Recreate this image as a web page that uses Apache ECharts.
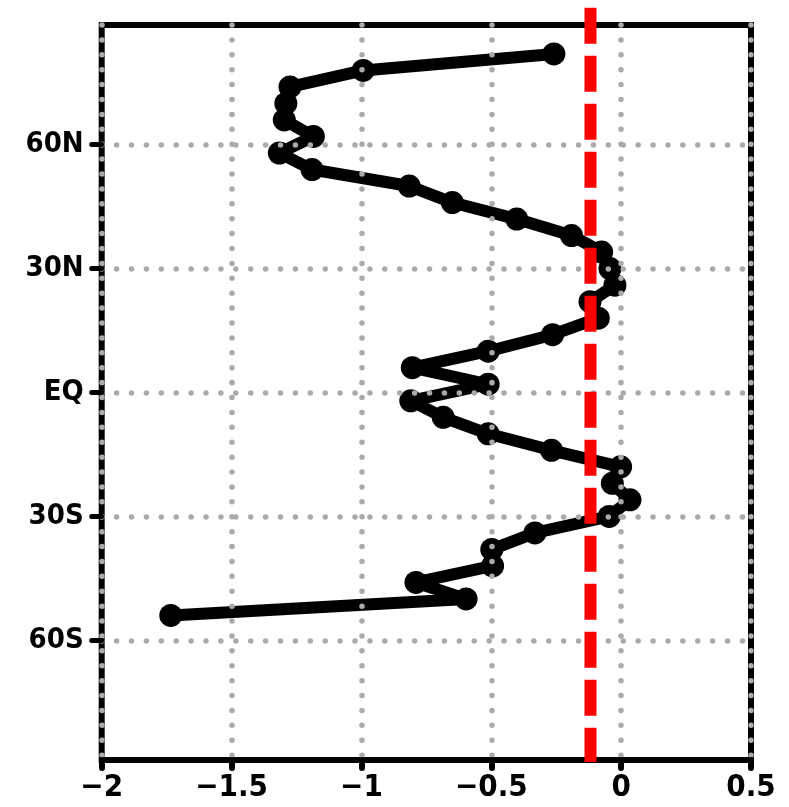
<!DOCTYPE html>
<html>
<head>
<meta charset="utf-8">
<script src="https://cdn.jsdelivr.net/npm/echarts@6/dist/echarts.min.js"></script>
<style>
  html, body { margin: 0; padding: 0; background: #fff; }
  #chart { width: 789px; height: 807px; }
</style>
</head>
<body>
<div id="chart"></div>
<script>
// latitude of each point (deg, + north)
const latitudes = [82, 78, 74, 70, 66, 62, 58, 54, 50, 46, 42, 38, 34, 30, 26, 22, 18, 14, 10, 6, 2,
  -2, -6, -10, -14, -18, -22, -26, -30, -34, -38, -42, -46, -50, -54];
const values = [-0.259, -0.993, -1.275, -1.291, -1.297, -1.185, -1.316, -1.190, -0.816, -0.650, -0.402,
  -0.191, -0.075, -0.043, -0.024, -0.120, -0.088, -0.264, -0.512, -0.804, -0.512,
  -0.810, -0.685, -0.512, -0.268, -0.002, -0.034, 0.034, -0.046, -0.332, -0.498,
  -0.495, -0.790, -0.597, -1.734];
const refValue = -0.118;
const refLats = [93.2, -89.5];
const latTicks = [60, 30, 0, -30, -60];
const latNames = { '60': '60N', '30': '30N', '0': 'EQ', '-30': '30S', '-60': '60S' };

const FONT = '"DejaVu Sans Condensed", "DejaVu Sans", sans-serif';
const dotted = {
  color: '#aaaaaa',
  width: 5.5,
  type: [0.001, 14.9],
  cap: 'round'
};

const chart = echarts.init(document.getElementById('chart'));
chart.setOption({
  animation: false,
  grid: {
    left: 101.7, right: 38, top: 25, height: 735,
    show: true,
    borderColor: '#000',
    borderWidth: 6,
    backgroundColor: 'transparent'
  },
  xAxis: {
    type: 'value',
    min: -2, max: 0.5, interval: 0.5,
    z: 3,
    axisLine: { show: false, onZero: false },
    axisTick: { show: true, length: 8, lineStyle: { color: '#000', width: 6, cap: 'round' } },
    axisLabel: {
      margin: 12,
      fontFamily: FONT, fontWeight: 'bold', fontSize: 31, color: '#000',
      formatter: v => (v < 0 ? '\u2212' + Math.abs(v) : String(v))
    },
    splitLine: { show: true, lineStyle: dotted }
  },
  yAxis: {
    type: 'value',
    min: -89, max: 89,
    z: 3,
    axisLine: { show: false, onZero: false },
    axisTick: { show: true, length: 10, customValues: latTicks, lineStyle: { color: '#000', width: 5, cap: 'round' } },
    axisLabel: {
      margin: 18, customValues: latTicks,
      fontFamily: FONT, fontWeight: 'bold', fontSize: 29, color: '#000',
      formatter: v => latNames[String(v)] || ''
    },
    splitLine: { show: false }
  },
  series: [
    {
      type: 'line',
      z: 2,
      data: values.map((v, i) => [v, latitudes[i]]),
      symbol: 'circle',
      symbolSize: 23,
      itemStyle: { color: '#000' },
      lineStyle: { color: '#000', width: 12 },
      markLine: {
        z: 3,
        silent: true,
        symbol: 'none',
        label: { show: false },
        lineStyle: dotted,
        emphasis: { disabled: true },
        data: latTicks.map(l => ({ yAxis: l }))
      }
    },
    {
      type: 'line',
      z: 5,
      clip: false,
      symbol: 'none',
      data: refLats.map(l => [refValue, l]),
      lineStyle: { color: '#ff0000', width: 12, type: [36, 12] }
    }
  ]
});
</script>
</body>
</html>
